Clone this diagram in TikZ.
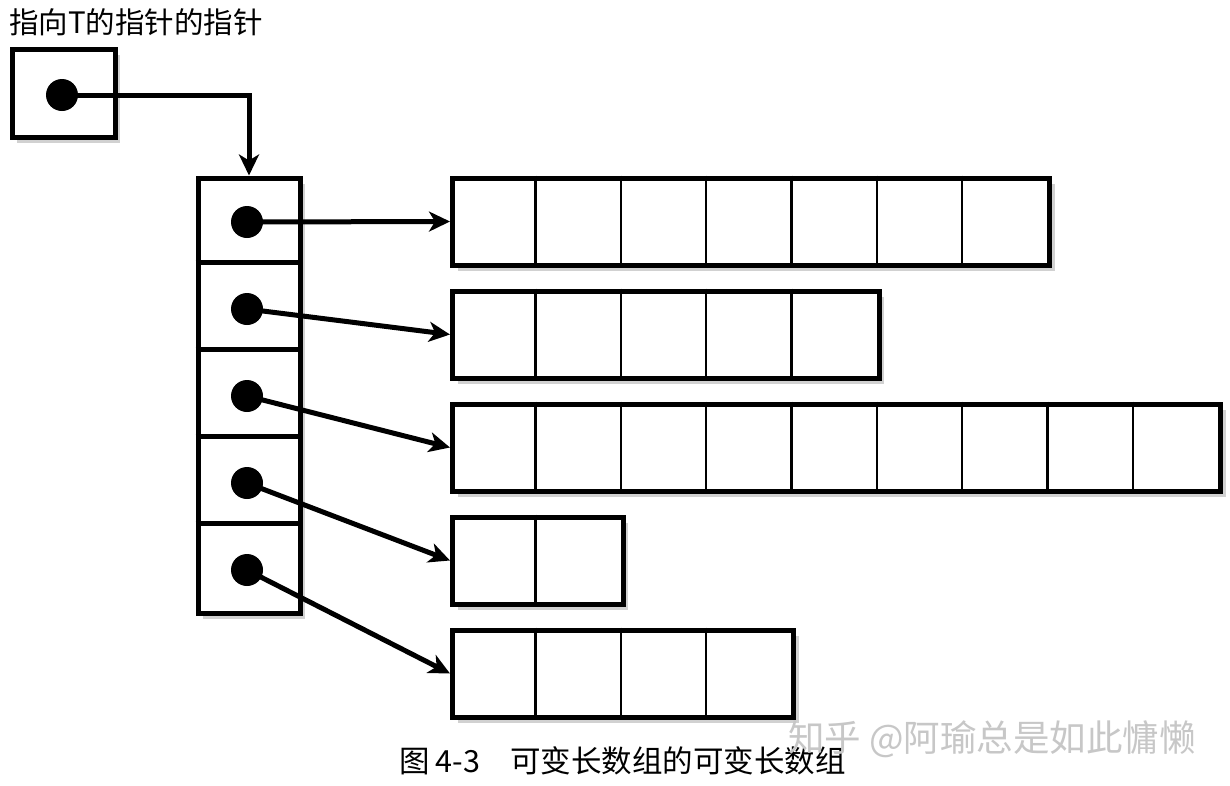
\documentclass[tikz,border=0pt]{standalone}
\usepackage{fontspec}
\newfontfamily\cjk{Noto Sans CJK SC}
\usetikzlibrary{arrows.meta,shadows}
\begin{document}
\begin{tikzpicture}[x=1pt,y=-1pt,
  box/.style={draw,line width=5pt,fill=white,inner sep=0pt,
    drop shadow={shadow xshift=5pt,shadow yshift=-6pt,opacity=0.18,fill=black}},
  dot/.style={circle,fill=black,minimum size=32pt,inner sep=0pt},
  ptr/.style={line width=5pt,-{Stealth[length=21pt,width=20pt,inset=6pt]}},
  div/.style={line width=2.4pt},
  hdiv/.style={line width=4.2pt},
  lbl/.style={inner sep=0pt,font=\cjk\fontsize{29.5}{31}\selectfont}]
\fill[white] (0,0) rectangle (1230,785);
\useasboundingbox (0,0) rectangle (1230,785);

% title and pointer-to-pointer box
\node[lbl,anchor=base west] (title) at (9,33) {指向T的指针的指针};
\node[box,minimum width=103pt,minimum height=88pt] (pp) at (63.5,93) {};
\node[dot] (d0) at (62,95) {};

% column of pointers
\node[box,minimum width=102pt,minimum height=435pt] (col) at (249,395.5) {};
\foreach \k in {1,...,4}
  \draw[hdiv] ([yshift=-\k*87pt]col.north west) -- ([yshift=-\k*87pt]col.north east);
\foreach \k/\yy in {1/222,2/309,3/396,4/483,5/570}
  \node[dot] (d\k) at (247,\yy) {};

% arrays
\foreach \k/\yy/\n in {1/221.5/7,2/334.5/5,3/447.5/9,4/560.5/2,5/673.5/4}{
  \node[box,anchor=west,minimum width=\n*85.35pt,minimum height=87pt] (row\k) at (450,\yy) {};
  \pgfmathtruncatemacro{\m}{\n-1}
  \foreach \i in {1,...,\m}
    \draw[div] ([xshift=\i*85.35pt]row\k.north west) -- ([xshift=\i*85.35pt]row\k.south west);
}

% pointers
\draw[ptr] (d0.center) -| (col.north);
\foreach \k in {1,...,5}
  \draw[ptr] (d\k.center) -- (row\k.west);

% caption
\node[lbl,anchor=base west,font=\cjk\fontsize{30.5}{32}\selectfont] (cap) at (399,772) {图\hspace{6pt}4-3\hspace{30pt}可变长数组的可变长数组};

% watermark
\node[inner sep=0pt,anchor=base west,text=black!22,font=\cjk\fontsize{36.5}{38}\selectfont] (wm) at (788,751) {知乎 @阿瑜总是如此慵懒};
\end{tikzpicture}
\end{document}
